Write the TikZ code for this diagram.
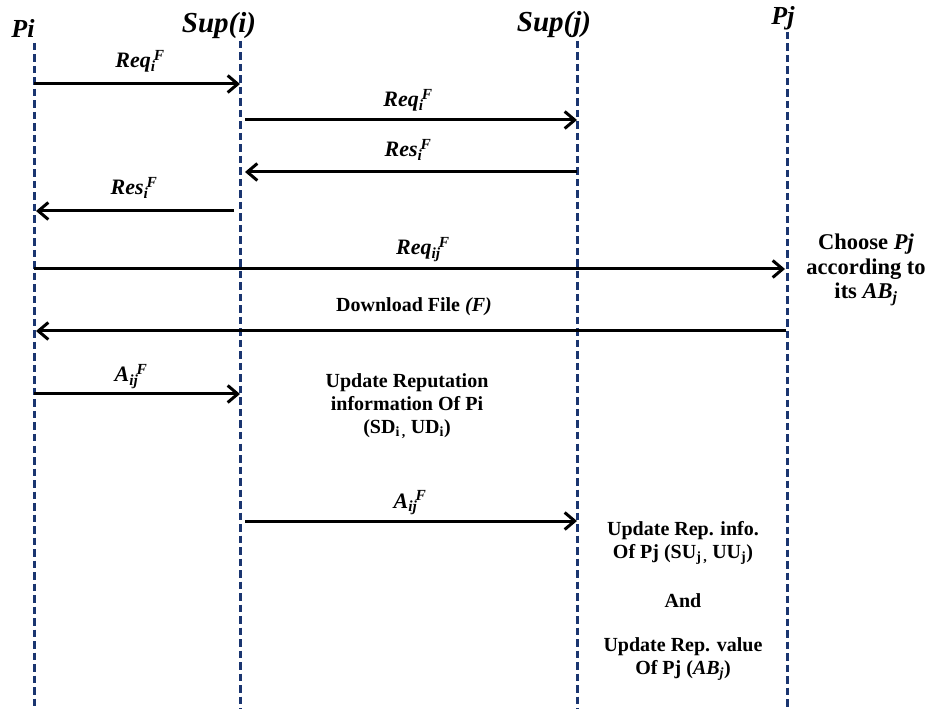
\documentclass[tikz,border=0pt]{standalone}
\usepackage{fontspec}
\setmainfont{Liberation Serif}
\usetikzlibrary{arrows.meta}
\definecolor{lifeblue}{HTML}{1A3570}
\newcommand\sbsp[2]{\textsubscript{#1}\kern-0.08em\textsuperscript{#2}}
\begin{document}
\begin{tikzpicture}[x=1pt,y=-1pt,
  head/.style={font=\fontsize{26}{30}\selectfont\bfseries\itshape, anchor=base, inner sep=0pt},
  life/.style={draw=lifeblue, line width=3pt, dash pattern=on 7.5pt off 4pt},
  msg/.style={draw=black, line width=3pt, -{Straight Barb[length=10pt,width=17pt]}},
  msglbl/.style={font=\fontsize{22}{26}\selectfont\bfseries\itshape, anchor=base, inner sep=0pt},
  note/.style={font=\fontsize{20}{23}\selectfont\bfseries, align=center, inner sep=0pt}]
\useasboundingbox (0,0) rectangle (927,711);
\fill[white] (0,0) rectangle (927,711);

% heads
\node[head] (Pi)   at (23,38)  {Pi};
\node[head, font=\fontsize{29}{32}\selectfont\bfseries\itshape] (Supi) at (219,33) {Sup(i)};
\node[head, font=\fontsize{29}{32}\selectfont\bfseries\itshape] (Supj) at (554,32) {Sup(j)};
\node[head] (Pj)   at (783,25) {Pj};

% lifelines
\coordinate (Pit) at (34,43);   \coordinate (Pib) at (34,709);
\coordinate (Sit) at (240,41);  \coordinate (Sib) at (240,709);
\coordinate (Sjt) at (577,41);  \coordinate (Sjb) at (577,709);
\coordinate (Pjt) at (787,32);  \coordinate (Pjb) at (787,709);
\draw[life] (Pit) -- (Pib);
\draw[life] (Sit) -- (Sib);
\draw[life] (Sjt) -- (Sjb);
\draw[life] (Pjt) -- (Pjb);

% messages
\coordinate (m1s) at (34,84);   \coordinate (m1e) at (240,84);
\coordinate (m2s) at (245,120); \coordinate (m2e) at (577,120);
\coordinate (m3s) at (577,172); \coordinate (m3e) at (245,172);
\coordinate (m4s) at (234,211); \coordinate (m4e) at (36,211);
\coordinate (m5s) at (34,269);  \coordinate (m5e) at (785,269);
\coordinate (m6s) at (786,331); \coordinate (m6e) at (36,331);
\coordinate (m7s) at (34,394);  \coordinate (m7e) at (240,394);
\coordinate (m8s) at (245,521); \coordinate (m8e) at (577,521);
\draw[msg] (m1s) -- (m1e);
\draw[msg] (m2s) -- (m2e);
\draw[msg] (m3s) -- (m3e);
\draw[msg] (m4s) -- (m4e);
\draw[msg] (m5s) -- (m5e);
\draw[msg] (m6s) -- (m6e);
\draw[msg] (m7s) -- (m7e);
\draw[msg] (m8s) -- (m8e);

% message labels
\node[msglbl] (l1) at (140,68)  {Req\sbsp{i}{F}};
\node[msglbl] (l2) at (408,107) {Req\sbsp{i}{F}};
\node[msglbl] (l3) at (408,157) {Res\sbsp{i}{F}};
\node[msglbl] (l4) at (134,195) {Res\sbsp{i}{F}};
\node[msglbl] (l5) at (423,255) {Req\sbsp{ij}{F}};
\node[msglbl, font=\fontsize{20}{24}\selectfont\bfseries] (l6) at (414,312) {Download File \textit{(F)}};
\node[msglbl] (l7) at (131,382) {A\sbsp{ij}{F}};
\node[msglbl] (l8) at (410,508) {A\sbsp{ij}{F}};

% notes
\node[note, font=\fontsize{22.5}{24.5}\selectfont\bfseries] (n1) at (866,270) {Choose \textit{Pj}\\according to\\its \textit{AB\textsubscript{j}}};
\node[note] (n2) at (407,406) {Update Reputation\\information Of Pi\\(SD\textsubscript{i\,,} UD\textsubscript{i})};
\node[note] (n3) at (683,601) {Update Rep. info.\\Of Pj (SU\textsubscript{j\,,} UU\textsubscript{j})\\[26pt]And\\[21pt]Update Rep. value\\Of Pj (\textit{AB\textsubscript{j}})};
\end{tikzpicture}
\end{document}
